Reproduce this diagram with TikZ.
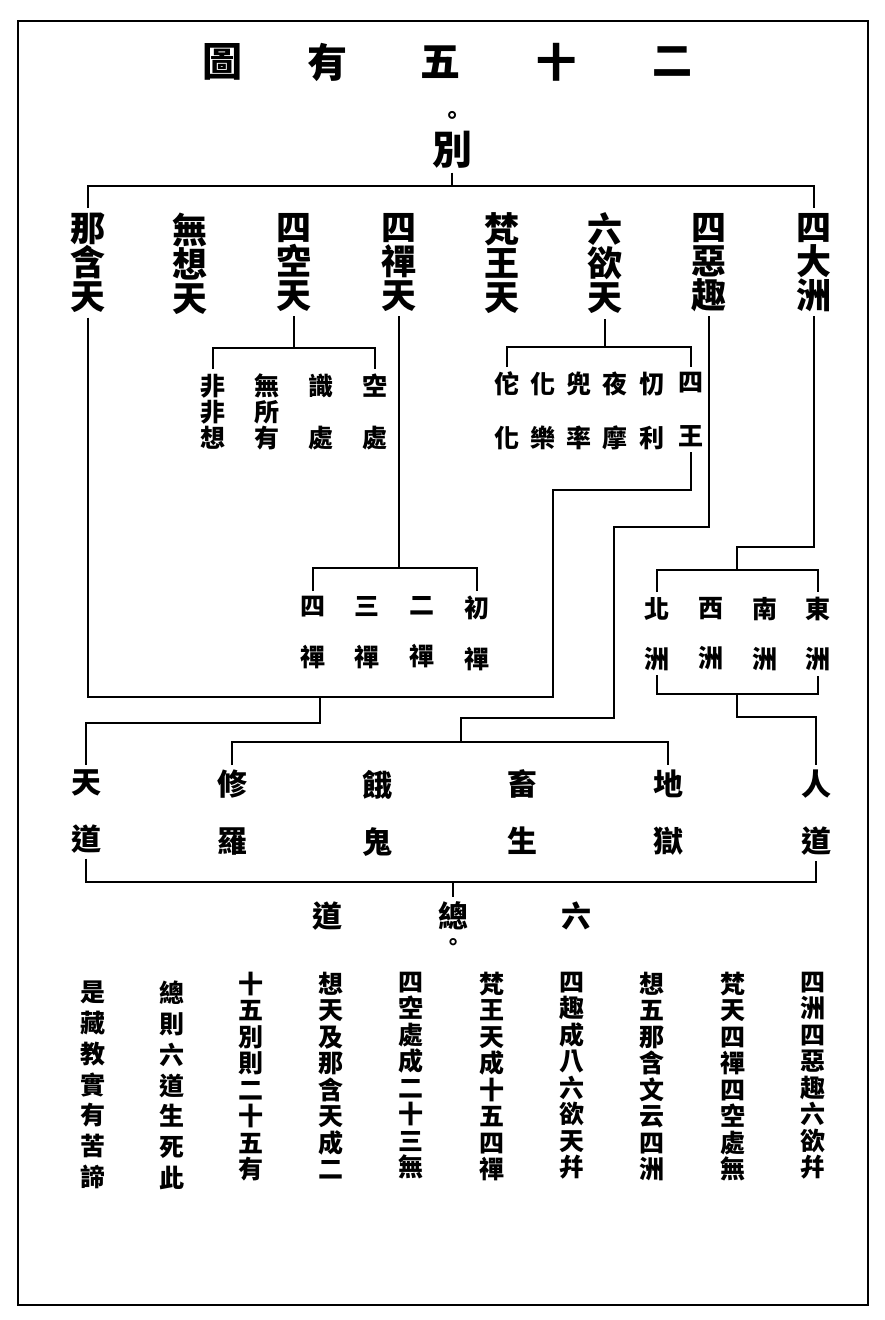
\documentclass[tikz,border=0pt]{standalone}
\usepackage{fontspec}
\newfontfamily\cjk{Noto Sans CJK TC}
\newcommand\myfs[2]{\cjk\bfseries\fontsize{#1}{#2}\selectfont}
\begin{document}
\begin{tikzpicture}[x=1pt,y=-1pt,
  conn/.style={line width=1.2pt},
  frame/.style={line width=2.4pt},
  vt/.style={align=center, inner sep=0pt, outer xsep=0pt, outer ysep=5pt, anchor=north},
  ch/.style={inner sep=0pt, outer sep=0pt, anchor=center},
  tl/.style={vt, font=\myfs{35}{34}},
  sub/.style={vt, font=\myfs{25}{#1}},
  path6/.style={vt, font=\myfs{30}{57}},
  col/.style={vt, font=\myfs{25}{#1}}]
\useasboundingbox (0,0) rectangle (885,1320);
\draw[frame] (18,21) rectangle (868,1305);

% title
\node[ch, font=\myfs{40}{40}] (t1) at (222,62) {圖};
\node[ch, font=\myfs{40}{40}] (t2) at (327,62) {有};
\node[ch, font=\myfs{40}{40}] (t3) at (440,62) {五};
\node[ch, font=\myfs{40}{40}] (t4) at (556,62) {十};
\node[ch, font=\myfs{40}{40}] (t5) at (672,62) {二};

\node[ch, font=\myfs{24}{24}] (dot1) at (452,118) {。};
\node[ch, font=\myfs{40}{40}, outer ysep=4pt] (bie) at (452,150) {別};
\coordinate (biebar) at (452,186);

% top level
\node[tl] (na) at (88,208) {那\\含\\天};
\node[tl] (wx) at (190,208) {無\\想\\天};
\node[tl] (kt) at (294,208) {四\\空\\天};
\node[tl] (ct) at (399,208) {四\\禪\\天};
\node[tl] (ft) at (502,208) {梵\\王\\天};
\node[tl] (yt) at (605,208) {六\\欲\\天};
\node[tl] (eq) at (709,208) {四\\惡\\趣};
\node[tl] (dz) at (814,208) {四\\大\\洲};

\draw[conn] (bie.south) -- (biebar);
\draw[conn] (na.north) |- (biebar) -| (dz.north);

% four formless heavens
\coordinate (kongbar) at (294,348);
\node[sub=52] (k1) at (375,369) {空\\處};
\node[sub=52] (k2) at (321,369) {識\\處};
\node[sub=26] (k3) at (267,369) {無\\所\\有};
\node[sub=26] (k4) at (213,369) {非\\非\\想};
\draw[conn] (kt.south) -- (kongbar);
\draw[conn] (k4.north) |- (kongbar) -| (k1.north);

% six desire heavens
\coordinate (yubar) at (605,347);
\node[sub=54] (y1) at (691,367) {四\\王};
\node[sub=54] (y2) at (652,367) {忉\\利};
\node[sub=54] (y3) at (615,367) {夜\\摩};
\node[sub=54] (y4) at (579,367) {兜\\率};
\node[sub=54] (y5) at (543,367) {化\\樂};
\node[sub=54] (y6) at (507,367) {佗\\化};
\draw[conn] (yt.south) -- (yubar);
\draw[conn] (y6.north) |- (yubar) -| (y1.north);

% four dhyana heavens
\coordinate (chanbar) at (399,568);
\node[sub=51] (c1) at (477,591) {初\\禪};
\node[sub=51] (c2) at (422,591) {二\\禪};
\node[sub=51] (c3) at (367,591) {三\\禪};
\node[sub=51] (c4) at (313,591) {四\\禪};
\draw[conn] (ct.south) -- (chanbar);
\draw[conn] (c4.north) |- (chanbar) -| (c1.north);

% four continents
\coordinate (zturn) at (737,547);
\coordinate (zbarA) at (737,570);
\coordinate (zbarB) at (737,694);
\coordinate (zdown) at (737,717);
\node[sub=50] (z1) at (818,592) {東\\洲};
\node[sub=50] (z2) at (765,592) {南\\洲};
\node[sub=50] (z3) at (711,592) {西\\洲};
\node[sub=50] (z4) at (657,592) {北\\洲};
\draw[conn] (dz.south) |- (zturn) -- (zbarA);
\draw[conn] (z4.north) |- (zbarA) -| (z1.north);
\draw[conn] (z4.south) |- (zbarB) -| (z1.south);

% six paths
\node[path6] (d1) at (86,765) {天\\道};
\node[path6] (d2) at (232,765) {修\\羅};
\node[path6] (d3) at (377,765) {餓\\鬼};
\node[path6] (d4) at (522,765) {畜\\生};
\node[path6] (d5) at (668,765) {地\\獄};
\node[path6] (d6) at (816,765) {人\\道};

% heavens loop to heaven path
\coordinate (b1) at (553,697);
\coordinate (b2) at (553,490);
\coordinate (m1) at (320,697);
\coordinate (m2) at (320,723);
\draw[conn] (na.south) |- (b1) -- (b2) -| (y1.south);
\draw[conn] (m1) -- (m2) -| (d1.north);

% evil destinies
\coordinate (e1) at (614,527);
\coordinate (e2) at (614,718);
\coordinate (ebar) at (461,742);
\draw[conn] (eq.south) |- (e1) -- (e2) -| (ebar);
\draw[conn] (d2.north) |- (ebar) -| (d5.north);

% continents to human path
\draw[conn] (zbarB) -- (zdown) -| (d6.north);

% total
\coordinate (zongbar) at (453,882);
\node[vt, font=\myfs{30}{30}] (g1) at (327,897) {道};
\node[vt, font=\myfs{30}{30}] (g2) at (453,897) {總};
\node[vt, font=\myfs{30}{30}] (g3) at (576,897) {六};
\node[ch, font=\myfs{22}{22}] (dot2) at (453,944) {。};
\draw[conn] (d1.south) |- (zongbar) -| (d6.south);
\draw[conn] (zongbar) -- (g2.north);

% bottom text
\node[col=30.8] (p1) at (93,976) {是\\藏\\教\\實\\有\\苦\\諦};
\node[col=30.8] (p2) at (172,976) {總\\則\\六\\道\\生\\死\\此};
\node[col=26.5] (p3) at (251,967) {十\\五\\別\\則\\二\\十\\五\\有};
\node[col=26.5] (p4) at (331,967) {想\\天\\及\\那\\含\\天\\成\\二};
\node[col=26.5] (p5) at (411,967) {四\\空\\處\\成\\二\\十\\三\\無};
\node[col=26.5] (p6) at (492,967) {梵\\王\\天\\成\\十\\五\\四\\禪};
\node[col=26.5] (p7) at (572,967) {四\\趣\\成\\八\\六\\欲\\天\\幷};
\node[col=26.5] (p8) at (652,967) {想\\五\\那\\含\\文\\云\\四\\洲};
\node[col=26.5] (p9) at (733,967) {梵\\天\\四\\禪\\四\\空\\處\\無};
\node[col=26.5] (p10) at (813,967) {四\\洲\\四\\惡\\趣\\六\\欲\\幷};
\end{tikzpicture}
\end{document}
